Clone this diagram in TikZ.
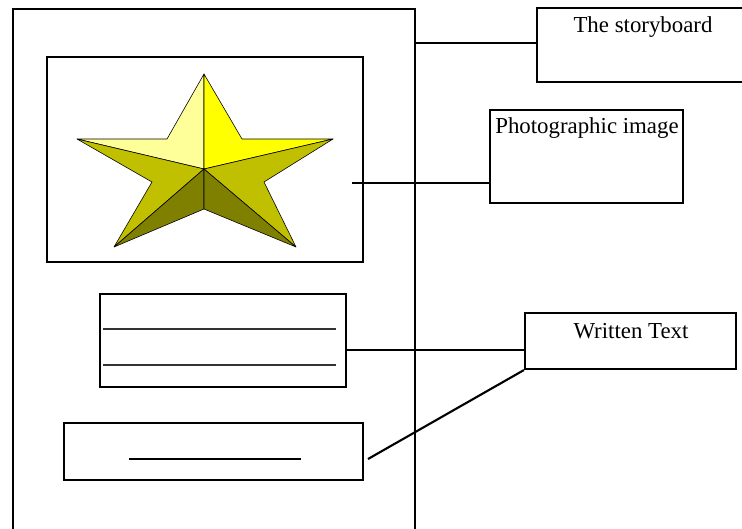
\documentclass[tikz,border=0pt]{standalone}
\usepackage{fontspec}
\setmainfont{Liberation Serif}
\usepackage{xcolor}
\definecolor{starpale}{HTML}{FFFF99}
\definecolor{staryellow}{HTML}{FFFF00}
\definecolor{starmid}{HTML}{C0C000}
\definecolor{stardark}{HTML}{808000}

\begin{document}
\begin{tikzpicture}[x=0.03cm,y=-0.03cm,
    frame/.style={draw, line width=1.8pt, inner sep=0pt},
    sized/.style 2 args={minimum width=#1*0.03cm, minimum height=#2*0.03cm},
    face/.style={draw, line width=0.5pt, line join=round},
    lbl/.style={font=\fontsize{19.5}{23}\selectfont, inner sep=0pt},
    link/.style={line width=1.8pt}]
            \clip (0,0) rectangle (742,529);

            % the page
            \node[frame, sized={402}{542}] (page) at (214,280) {};
            \node[frame, sized={316}{205}] (frame) at (205,159.5) {};
            \node[frame, sized={246}{93}]  (textA) at (223,340.5) {};
            \node[frame, sized={299}{57}]  (textB) at (213.5,451.5) {};

            % the star
            \coordinate (top) at (204,74);
            \coordinate (tl)  at (167,139);
            \coordinate (lt)  at (77,139);
            \coordinate (tr)  at (242,139);
            \coordinate (rt)  at (333,139);
            \coordinate (li)  at (152,182);
            \coordinate (ri)  at (264,182);
            \coordinate (bl)  at (114,247);
            \coordinate (br)  at (296,247);
            \coordinate (ib)  at (204,209);
            \coordinate (c)   at (204,169);
            \filldraw[face, fill=starpale]   (top) -- (tl) -- (lt) -- (c) -- cycle;
            \filldraw[face, fill=staryellow] (top) -- (c) -- (rt) -- (tr) -- cycle;
            \filldraw[face, fill=starmid]    (lt) -- (c) -- (bl) -- (li) -- cycle;
            \filldraw[face, fill=starmid]    (rt) -- (c) -- (br) -- (ri) -- cycle;
            \filldraw[face, fill=stardark]   (c) -- (bl) -- (ib) -- cycle;
            \filldraw[face, fill=stardark]   (c) -- (ib) -- (br) -- cycle;

            % lines for the text
            \draw[line width=1pt, black!80] (103,329) -- (336,329);
            \draw[line width=1pt, black!80] (103,365) -- (336,365);
            \draw[line width=1.8pt] (129,459) -- (301,459);

            % the labels
            \node[frame, sized={215}{74}] (story)   at (644.5,45) {};
            \node[frame, sized={193}{93}] (photo)   at (586.5,156.5) {};
            \node[frame, sized={211}{56}] (written) at (630.5,341) {};
            \node[lbl] (storyT)   at (643,27)  {The storyboard};
            \node[lbl] (photoT)   at (587,128) {Photographic image};
            \node[lbl] (writtenT) at (631,331) {Written Text};

            \coordinate (slink) at (415,43);
            \coordinate (plink) at (352,183);
            \coordinate (tlink) at (346,350);
            \coordinate (blink) at (368,459);
            \draw[link] (slink) -- (slink -| story.west);
            \draw[link] (plink) -- (plink -| photo.west);
            \draw[link] (tlink) -- (tlink -| written.west);
            \draw[link] (blink) -- (written.south west);
\end{tikzpicture}
\end{document}
